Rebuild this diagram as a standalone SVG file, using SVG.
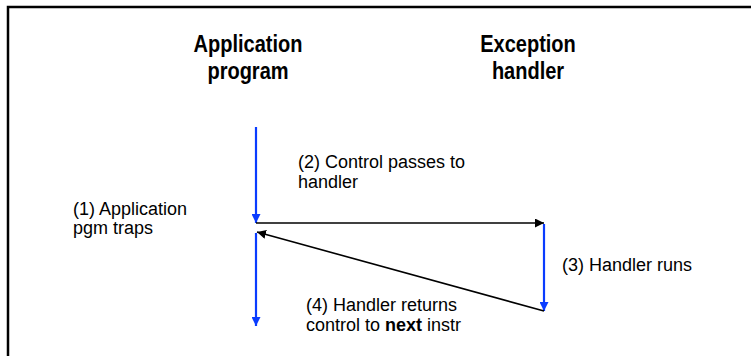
<svg xmlns="http://www.w3.org/2000/svg" width="751" height="356" viewBox="0 0 751 356">
<style>
.title{font-family:"Liberation Sans",Arial,sans-serif;font-size:23px;font-weight:bold;fill:#000;text-anchor:middle}
.lbl{font-family:"Liberation Sans",Arial,sans-serif;font-size:18px;fill:#000}
.blue{stroke:#0a3cff;stroke-width:2.2;fill:none}
.blk{stroke:#000;stroke-width:1.6;fill:none}
</style>
<defs>
<marker id="ab" viewBox="0 0 10 10" refX="10" refY="5" markerWidth="9" markerHeight="9" markerUnits="userSpaceOnUse" orient="auto"><path d="M0,0L10,5L0,10z" fill="#0a3cff"/></marker>
<marker id="ak" viewBox="0 0 10 10" refX="10" refY="5" markerWidth="9" markerHeight="9" markerUnits="userSpaceOnUse" orient="auto"><path d="M0,0L10,5L0,10z" fill="#000"/></marker>
</defs>
<rect x="8" y="7" width="800" height="400" fill="#fff" stroke="#000" stroke-width="2.5"/>
<g id="app-program" transform="translate(248,0) scale(0.87,1)"><text class="title" x="0" y="52">Application</text><text class="title" x="0" y="79">program</text></g>
<g id="exception-handler" transform="translate(528,0) scale(0.87,1)"><text class="title" x="0" y="52">Exception</text><text class="title" x="0" y="79">handler</text></g>
<g id="label1"><text class="lbl" x="73" y="215">(1) Application</text><text class="lbl" x="73" y="234">pgm traps</text></g>
<g id="label2"><text class="lbl" x="298" y="168">(2) Control passes to</text><text class="lbl" x="298" y="188">handler</text></g>
<g id="label3"><text class="lbl" x="562" y="271">(3) Handler runs</text></g>
<g id="label4"><text class="lbl" x="306" y="311">(4) Handler returns</text><text class="lbl" x="306" y="331">control to <tspan font-weight="bold">next</tspan> instr</text></g>
<g id="connectors">
<line class="blue" x1="256" y1="127" x2="256" y2="223" marker-end="url(#ab)"/>
<line class="blk" x1="256" y1="223" x2="544" y2="223" marker-end="url(#ak)"/>
<line class="blue" x1="544" y1="224" x2="544" y2="311" marker-end="url(#ab)"/>
<line class="blk" x1="544" y1="311" x2="257" y2="232" marker-end="url(#ak)"/>
<line class="blue" x1="256" y1="233" x2="256" y2="326" marker-end="url(#ab)"/>
</g>
</svg>
